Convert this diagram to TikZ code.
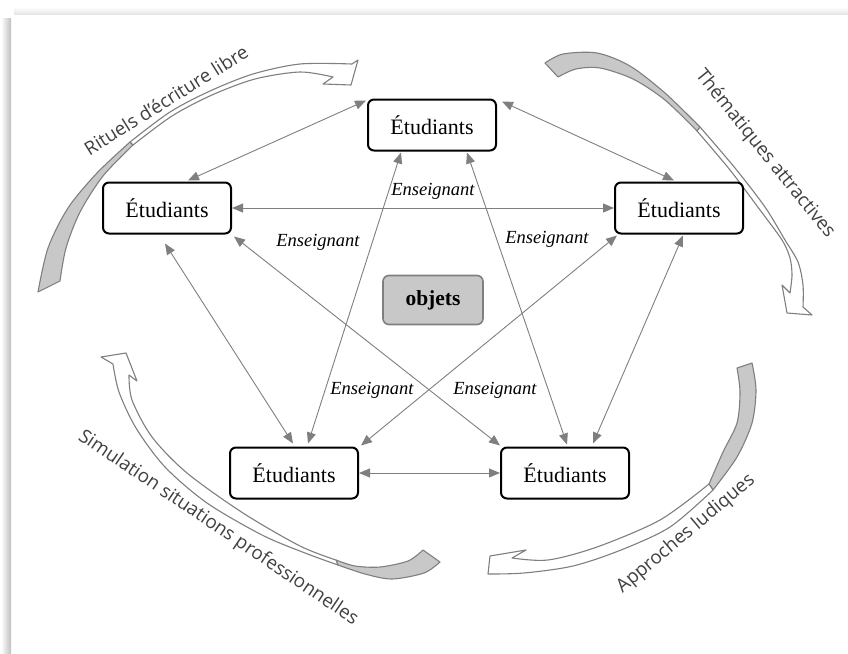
\documentclass[tikz,border=0pt]{standalone}
\usepackage{fontspec}
\setmainfont{Liberation Serif}
\newfontfamily\arcfont{Open Sans}
\usetikzlibrary{arrows.meta,calc}
\definecolor{cgray}{HTML}{7F7F7F}
\definecolor{lgray}{HTML}{C8C8C8}
\definecolor{tgray}{HTML}{404040}
\begin{document}
\begin{tikzpicture}[x=1pt,y=-1pt,
  box/.style={draw=black, line width=2pt, rounded corners=6pt, fill=white, minimum width=128pt, minimum height=51pt, font=\fontsize{22}{26}\selectfont, inner sep=0pt},
  obj/.style={draw=cgray, line width=1.6pt, rounded corners=6pt, fill=lgray, minimum width=100pt, minimum height=49pt, font=\fontsize{21.5}{25}\selectfont\bfseries, inner sep=0pt},
  lab/.style={font=\fontsize{18.5}{22}\selectfont\itshape, inner sep=0pt},
  conn/.style={draw=cgray, line width=0.9pt, {Triangle[length=11pt,width=9pt]}-{Triangle[length=11pt,width=9pt]}},
  band/.style={draw=cgray, line width=1.1pt, fill=white, line join=round},
  back/.style={draw=cgray, line width=1.1pt, fill=lgray, line join=round},
  arclab/.style={font=\arcfont\fontsize{18.8}{22}\selectfont, text=tgray, inner sep=0pt}
]
\useasboundingbox (0,0) rectangle (848,653);
% page shadow
\shade[left color=white, right color=black!25] (1,18) rectangle (11,653);
\shade[top color=white, bottom color=black!10] (14,7) rectangle (848,14);

% curved block arrows
% A: Rituels
\draw[back] plot[smooth] coordinates {(38,292) (48,248) (68,208) (97,173) (130,142)} -- plot[smooth] coordinates {(133,145) (103,176) (80,212) (66,248) (60,281)} -- cycle;
\draw[band] plot[smooth] coordinates {(130,142) (170,112) (210,91) (253,74) (300,64) (352,64)} -- (358,60) -- (351,85) -- (323,84) -- plot[smooth] coordinates {(333,77) (300,72) (255,79) (212,95) (172,116) (133,145)} -- cycle;
% B: Thematiques
\draw[back] plot[smooth] coordinates {(545,63) (563,54) (597,53) (630,66) (665,93) (700,127)} -- plot[smooth] coordinates {(697,131) (665,100) (633,79) (600,68) (576,69) (558,77)} -- cycle;
\draw[band] plot[smooth] coordinates {(700,127) (735,168) (765,207) (785,240) (798,262) (803,285) (803,307)} -- (812,315) -- (787,313) -- (782,285) -- plot[smooth] coordinates {(790,293) (792,275) (790,258) (782,240) (760,210) (730,170) (697,131)} -- cycle;
% C: Simulation
\draw[back] plot[smooth] coordinates {(338,565) (365,574) (392,579) (424,573) (440,562)} -- plot[smooth] coordinates {(423,550) (408,561) (380,567) (355,566) (336,560)} -- cycle;
\draw[band] plot[smooth] coordinates {(338,565) (305,553) (262,535) (207,503) (165,467) (136,428) (119,392) (113,364)} -- (101,357) -- (126,353) -- (137,381) -- plot[smooth] coordinates {(129,375) (132,400) (152,437) (187,473) (243,513) (300,546) (336,560)} -- cycle;
% D: Approches
\draw[back] plot[smooth] coordinates {(752,363) (756,390) (752,423) (737,457) (713,490)} -- plot[smooth] coordinates {(709,484) (723,452) (737,423) (740,392) (737,368)} -- cycle;
\draw[band] plot[smooth] coordinates {(713,490) (670,527) (621,550) (573,566) (524,573) (488,574)} -- (490,556) -- (526,550) -- plot[smooth] coordinates {(512,558) (548,560) (597,547) (660,520) (709,484)} -- cycle;

% arc labels
\node[arclab, rotate=32] (lrit) at (166,100) {Rituels d’écriture libre};
\node[arclab, rotate=-51] (lthe) at (765,154) {Thématiques attractives};
\node[arclab, rotate=-34] (lsim) at (218,528) {Simulation situations professionnelles};
\node[arclab, rotate=40] (lapp) at (686,534) {Approches ludiques};

% nodes
\node[box] (top) at (432,125) {Étudiants};
\node[box] (left) at (167,208) {Étudiants};
\node[box] (right) at (679,208) {Étudiants};
\node[box] (bl) at (294,473) {Étudiants};
\node[box] (br) at (565,473) {Étudiants};
\node[obj] (obj) at (433,300) {objets};

% connectors
\draw[conn] ($(top.north west)+(-1,2)$) -- ($(left.north)+(21,-1)$);
\draw[conn] ($(top.north east)+(5,3)$) -- ($(right.north)+(-5,-1)$);
\draw[conn] (left.east) -- (right.west);
\draw[conn] ($(top.south)+(-31,1)$) -- ($(bl.north)+(14,-3)$);
\draw[conn] ($(top.south)+(35,1)$) -- ($(br.north)+(2,-2)$);
\draw[conn] ($(right.south)+(4,1)$) -- ($(br.north)+(28,-3)$);
\draw[conn] ($(left.south)+(-2,9)$) -- ($(bl.north)+(-1,-3)$);
\draw[conn] ($(left.south east)+(2,2)$) -- ($(br.north west)+(0,-1)$);
\draw[conn] ($(right.south west)+(3,1)$) -- ($(bl.north east)+(2,-1)$);
\draw[conn] (bl.east) -- (br.west);

% Enseignant labels
\node[lab] (e1) at (433,191) {Enseignant};
\node[lab] (e2) at (318,242) {Enseignant};
\node[lab] (e3) at (547,239) {Enseignant};
\node[lab] (e4) at (372,390) {Enseignant};
\node[lab] (e5) at (495,390) {Enseignant};
\end{tikzpicture}
\end{document}
